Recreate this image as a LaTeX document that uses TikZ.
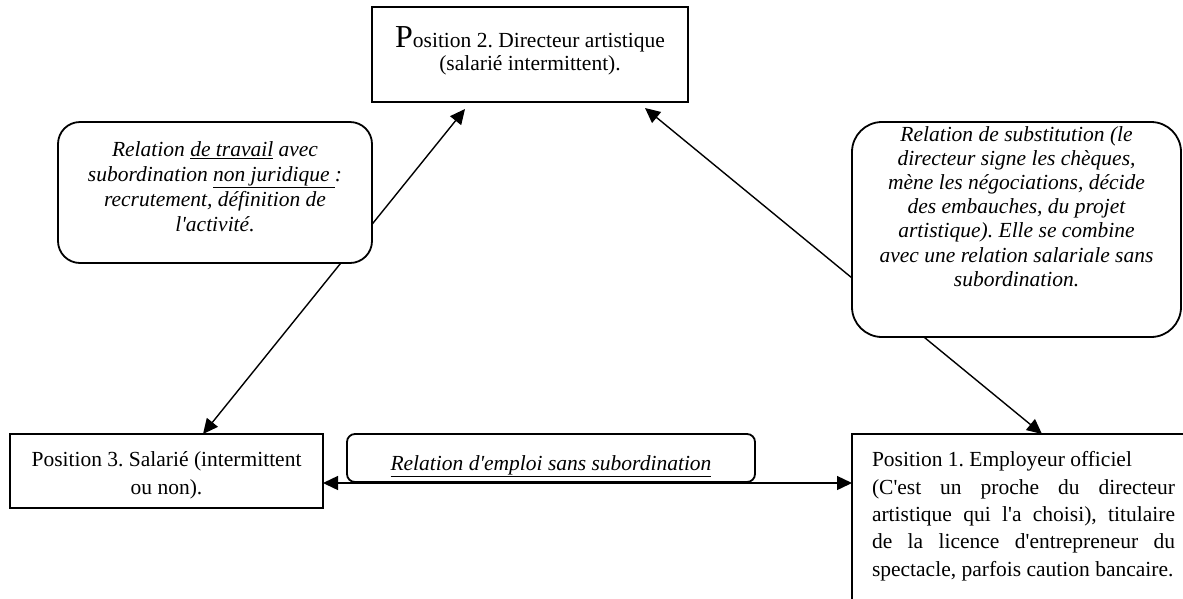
\documentclass[tikz,border=0pt]{standalone}
\usepackage{fontspec}
\setmainfont{Liberation Serif}
\usetikzlibrary{arrows.meta,calc}
\newcommand{\aq}{\XeTeXglyph\XeTeXcharglyph"0027\relax}
\frenchspacing
\begin{document}
\begin{tikzpicture}[x=1pt,y=-1pt,
  box/.style={draw, line width=1.8pt, inner sep=0pt, outer sep=0pt, anchor=north west},
  callout/.style={draw, line width=1.8pt, fill=white, inner sep=0pt, outer sep=0pt, anchor=north west},
  conn2/.style={line width=1.4pt, {Triangle[length=15pt,width=14pt]}-{Triangle[length=15pt,width=14pt]}},
  fs/.style={font=\fontsize{21.5}{27.4}\selectfont\frenchspacing}
]
\useasboundingbox (0,0) rectangle (1183,598);
\clip (0,0) rectangle (1183,598);

% Position 2
\node[box, fs] (pos2) at (372,7) {\parbox[c][95pt][t]{316pt}{\fontsize{21.5}{23}\selectfont\centering
  \rule{0pt}{40pt}{\fontsize{32}{32}\selectfont P}osition 2. Directeur artistique\\
  (salarié intermittent).}};

% Position 3
\node[box, fs] (pos3) at (10,434) {\parbox[c][74pt][t]{313pt}{\centering
  \rule{0pt}{32.7pt}Position 3. Salarié (intermittent\\
  ou non).}};

% Position 1
\node[box, fs] (pos1) at (852,434) {\parbox[c][190pt][t]{348pt}{\leftskip=20pt\rightskip=25pt
  \rule{0pt}{32.7pt}Position 1. Employeur officiel\\
  (C\aq est un proche du directeur\linebreak
  artistique qui l\aq a choisi), titulaire\linebreak
  de la licence d\aq entrepreneur du\linebreak
  spectacle, parfois caution bancaire.}};

% relation d'emploi
\node[box, fs, rounded corners=8pt] (rel) at (347,434) {\parbox[c][48pt][t]{408pt}{\centering
  \rule{0pt}{36pt}\underline{\textit{Relation d\aq emploi sans subordination}}}};

% connectors
\draw[conn2] ([xshift=-65pt,yshift=-7pt]pos2.south) -- ([xshift=36.5pt]pos3.north);
\draw[conn2] ([xshift=115pt,yshift=-6pt]pos2.south) -- ([xshift=16pt]pos1.north);
\draw[conn2] ([yshift=-12pt]pos3.east) -- ([yshift=-12pt]pos3.east -| pos1.west);

% callouts
\node[callout, fs, rounded corners=22pt] (c1) at (58,122) {\parbox[c][141pt][t]{314pt}{\fontsize{21.5}{25}\selectfont\centering\itshape
  \rule{0pt}{34.7pt}Relation \underline{de travail} avec\\
  subordination \underline{non juridique\ }:\\
  recrutement, définition de\\
  l\aq activité.}};

\node[callout, fs, rounded corners=30pt] (c2) at (852,122) {\parbox[c][215pt][t]{329pt}{\fontsize{21.5}{24.2}\selectfont\centering\itshape
  \rule{0pt}{19pt}Relation de substitution (le\\
  directeur signe les chèques,\\
  mène les négociations, décide\\
  des embauches, du projet\\
  artistique). Elle se combine\\
  avec une relation salariale sans\\
  subordination.}};
\end{tikzpicture}
\end{document}
